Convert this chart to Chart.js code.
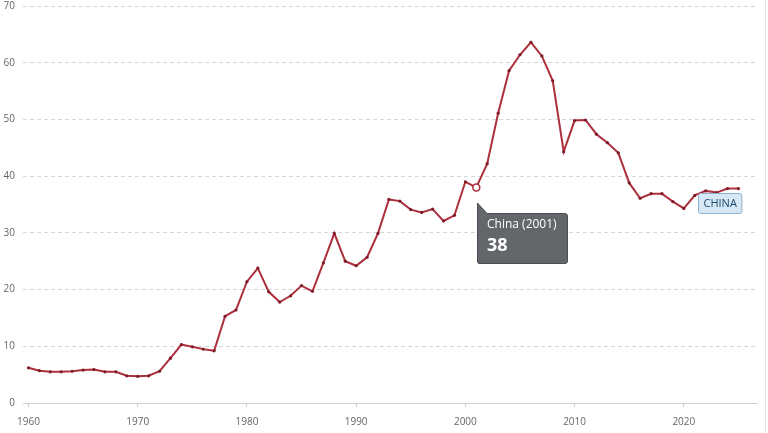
<!DOCTYPE html>
<html>
<head>
<meta charset="utf-8">
<script src="https://cdn.jsdelivr.net/npm/chart.js@4.4.1/dist/chart.umd.min.js"></script>
<style>
  html, body { margin: 0; padding: 0; background: #fff; }
  #chart { display: block; }
</style>
</head>
<body>
<canvas id="chart" width="768" height="433"></canvas>
<script>
// years 1960 - 2025
var years = [];
for (var yr = 1960; yr <= 2025; yr++) years.push(yr);

// China, share
var chinaValues = [
    6.2, 5.7, 5.5, 5.5, 5.6, 5.8, 5.9, 5.5, 5.5, 4.8,
    4.7, 4.8, 5.6, 7.9, 10.3, 9.9, 9.5, 9.2, 15.3, 16.4,
    21.4, 23.8, 19.6, 17.8, 18.9, 20.7, 19.7, 24.7, 29.9, 25.0,
    24.2, 25.7, 29.9, 35.9, 35.6, 34.1, 33.6, 34.2, 32.1, 33.1,
    39.0, 38.0, 42.2, 51.1, 58.6, 61.4, 63.6, 61.2, 56.8, 44.3,
    49.8, 49.9, 47.4, 45.9, 44.1, 38.8, 36.1, 36.9, 36.9, 35.5,
    34.3, 36.6, 37.4, 37.1, 37.8, 37.8
];

var yTicks = [0, 10, 20, 30, 40, 50, 60, 70];
var xTicks = [1960, 1970, 1980, 1990, 2000, 2010, 2020];

var seriesName = 'China';
var endLabel = 'CHINA';
var hoverYear = 2001;

var lineColor = '#ad2f3c';
var dotColor = '#7e1c28';

var points = years.map(function (y, i) { return { x: y, y: chinaValues[i] }; });

var overlayPlugin = {
    id: 'overlay',
    afterDatasetsDraw: function (chart) {
        var ctx = chart.ctx;
        var xs = chart.scales.x, ys = chart.scales.y;
        var idx = years.indexOf(hoverYear);
        var px = xs.getPixelForValue(hoverYear);
        var py = ys.getPixelForValue(chinaValues[idx]);

        ctx.save();
        // faint frame edge on the right
        ctx.strokeStyle = '#e4e4e4';
        ctx.lineWidth = 1;
        ctx.beginPath();
        ctx.moveTo(chart.width - 2.5, 0);
        ctx.lineTo(chart.width - 2.5, chart.height);
        ctx.stroke();

        // tooltip box with notch
        var bx = Math.round(px) + 1, by = Math.round(py) + 26, bw = 90, bh = 50;
        ctx.fillStyle = '#63666a';
        ctx.strokeStyle = '#4b4e52';
        ctx.beginPath();
        ctx.moveTo(bx + 0.5, by - 10);
        ctx.lineTo(bx + 10, by + 0.5);
        ctx.lineTo(bx + bw - 2, by + 0.5);
        ctx.quadraticCurveTo(bx + bw + 0.5, by + 0.5, bx + bw + 0.5, by + 3);
        ctx.lineTo(bx + bw + 0.5, by + bh - 2);
        ctx.quadraticCurveTo(bx + bw + 0.5, by + bh + 0.5, bx + bw - 2, by + bh + 0.5);
        ctx.lineTo(bx + 2, by + bh + 0.5);
        ctx.quadraticCurveTo(bx + 0.5, by + bh + 0.5, bx + 0.5, by + bh - 2);
        ctx.closePath();
        ctx.fill();
        ctx.stroke();

        ctx.fillStyle = '#ffffff';
        ctx.textBaseline = 'middle';
        ctx.textAlign = 'left';
        ctx.font = '12px "Open Sans"';
        ctx.fillText(seriesName + ' (' + hoverYear + ')', bx + 10, by + 12);
        ctx.font = 'bold 18px "Open Sans"';
        ctx.fillText(String(Math.round(chinaValues[idx])), bx + 10, by + 33);

        // end label
        var lx = xs.getPixelForValue(2023.25), ly = ys.getPixelForValue(35.3);
        ctx.font = '11px "Open Sans"';
        var tw = ctx.measureText(endLabel).width;
        var w = tw + 10, h = 20;
        var x0 = Math.round(lx - w / 2) + 0.5, y0 = Math.round(ly - h / 2) + 0.5;
        ctx.fillStyle = '#d6e7f5';
        ctx.strokeStyle = '#8db2cf';
        ctx.beginPath();
        ctx.roundRect(x0, y0, w, h, 2);
        ctx.fill();
        ctx.stroke();
        ctx.fillStyle = '#1d4a6b';
        ctx.textAlign = 'center';
        ctx.fillText(endLabel, x0 + w / 2, y0 + h / 2 + 0.5);
        ctx.restore();
    }
};

var ctx = document.getElementById('chart');
var chart = new Chart(ctx, {
    type: 'line',
    data: {
        datasets: [{
            label: seriesName,
            data: points,
            borderColor: lineColor,
            borderWidth: 2,
            tension: 0,
            pointRadius: function (c) { return years[c.dataIndex] === hoverYear ? 3.5 : 1.6; },
            pointBackgroundColor: function (c) { return years[c.dataIndex] === hoverYear ? '#ffffff' : dotColor; },
            pointBorderColor: function (c) { return years[c.dataIndex] === hoverYear ? lineColor : dotColor; },
            pointBorderWidth: function (c) { return years[c.dataIndex] === hoverYear ? 1.5 : 0; }
        }]
    },
    options: {
        responsive: false,
        animation: false,
        devicePixelRatio: 1,
        layout: { padding: { top: 6, right: 11, left: 0, bottom: 0 } },
        plugins: {
            legend: { display: false },
            tooltip: { enabled: false }
        },
        scales: {
            x: {
                type: 'linear',
                min: 1959.5,
                max: 2026.7,
                afterBuildTicks: function (axis) {
                    axis.ticks = xTicks.map(function (v) { return { value: v }; });
                },
                afterFit: function (axis) { axis.height = 30; },
                grid: {
                    drawOnChartArea: false,
                    drawTicks: true,
                    tickLength: 4,
                    color: '#cccccc'
                },
                border: { color: '#cfcfcf', width: 1 },
                ticks: {
                    padding: 9,
                    maxRotation: 0,
                    color: '#666666',
                    font: { family: '"Open Sans"', size: 10 },
                    callback: function (v) { return String(v); }
                }
            },
            y: {
                min: 0,
                max: 70,
                afterBuildTicks: function (axis) {
                    axis.ticks = yTicks.map(function (v) { return { value: v }; });
                },
                afterFit: function (axis) { axis.width = 23; },
                grid: {
                    color: '#d6d6d6',
                    drawTicks: true,
                    tickLength: 8,
                    tickColor: 'rgba(0,0,0,0)'
                },
                border: { display: false, dash: [4, 3] },
                ticks: {
                    padding: 0,
                    color: '#666666',
                    font: { family: '"Open Sans"', size: 10 }
                }
            }
        }
    },
    plugins: [overlayPlugin]
});
</script>
</body>
</html>
